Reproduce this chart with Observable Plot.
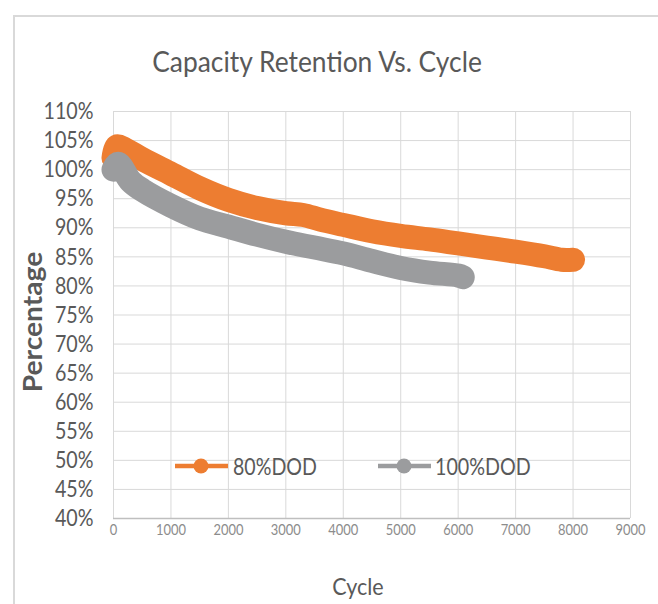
<!DOCTYPE html>
<html>
<head>
<meta charset="utf-8">
<script src="https://cdn.jsdelivr.net/npm/d3@7"></script>
<script src="https://cdn.jsdelivr.net/npm/@observablehq/plot@0.6"></script>
<style>
  html, body { margin: 0; padding: 0; background: #fff; }
  #wrap { position: relative; width: 658px; height: 604px; overflow: hidden; font-family: Lato, "Open Sans", sans-serif; color: #595959; }
  #wrap svg.plot { position: absolute; left: 0; top: 0; }
  .abs { position: absolute; white-space: nowrap; line-height: 1; }
  #border { position: absolute; left: 13px; top: 15px; width: 700px; height: 700px; border-top: 2px solid #d9d9d9; border-left: 2px solid #d9d9d9; }
</style>
</head>
<body>
<div id="wrap">
  <div id="border"></div>
</div>
<script>
const title = "Capacity Retention Vs. Cycle";
const xLabel = "Cycle";
const yLabel = "Percentage";
const xTicks = [0, 1000, 2000, 3000, 4000, 5000, 6000, 7000, 8000, 9000];
const yTicks = [40, 45, 50, 55, 60, 65, 70, 75, 80, 85, 90, 95, 100, 105, 110];

const seriesNames = ["80%DOD", "100%DOD"];
const seriesColors = ["#ED7D31", "#9B9C9E"];

const cycles80 = [0, 60, 200, 500, 1000, 1500, 2000, 2500, 3000, 3300, 3600, 4000, 4500, 5000, 5500, 6000, 6500, 7000, 7500, 7800, 8000];
const pct80    = [102, 104, 103.5, 101.8, 99.3, 96.8, 94.8, 93.4, 92.5, 92.2, 91.4, 90.5, 89.4, 88.6, 88, 87.3, 86.6, 85.9, 85.1, 84.5, 84.5];

const cycles100 = [0, 80, 300, 500, 1000, 1500, 2000, 2500, 3000, 3500, 4000, 4500, 5000, 5500, 6000, 6080];
const pct100    = [100, 101, 98, 96.5, 93.8, 91.6, 90.2, 88.8, 87.6, 86.6, 85.6, 84.3, 83.1, 82.3, 81.8, 81.5];

const data80 = cycles80.map((c, i) => ({cycle: c, pct: pct80[i]}));
const data100 = cycles100.map((c, i) => ({cycle: c, pct: pct100[i]}));

const lineOpts = (color) => ({
  x: "cycle", y: "pct", stroke: color, strokeWidth: 24,
  strokeLinecap: "round", strokeLinejoin: "round", curve: "catmull-rom"
});

const chart = Plot.plot({
  width: 658,
  height: 604,
  marginLeft: 113,
  marginRight: 28,
  marginTop: 111,
  marginBottom: 86,
  style: {fontFamily: "Lato, 'Open Sans', sans-serif", background: "transparent", overflow: "visible"},
  x: {domain: [0, 9000]},
  y: {domain: [40, 110]},
  marks: [
    Plot.gridX(xTicks, {stroke: "#d9d9d9", strokeOpacity: 1, strokeWidth: 1}),
    Plot.gridY(yTicks, {stroke: "#d9d9d9", strokeOpacity: 1, strokeWidth: 1}),
    Plot.ruleY([40], {stroke: "#bfbfbf", strokeWidth: 1.5}),
    Plot.axisX(xTicks, {tickSize: 0, tickPadding: 5, fontSize: 16, fill: "#8c8c8c", label: null, tickFormat: d => String(d)}),
    Plot.axisY(yTicks, {tickSize: 0, tickPadding: 20, fontSize: 24, fill: "#595959", label: null, tickFormat: d => d + "%"}),
    Plot.line(data80, lineOpts(seriesColors[0])),
    Plot.line(data100, lineOpts(seriesColors[1]))
  ]
});
const wrap = document.getElementById("wrap");
wrap.appendChild(chart);

// horizontally condense tick labels to match the narrow reference typeface
function condense(selector, refText, targetWidth) {
  const texts = Array.from(chart.querySelectorAll(selector));
  if (!texts.length) return;
  const ref = texts.find(t => t.textContent === refText) || texts[0];
  const w = ref.getComputedTextLength();
  if (!w) return;
  const s = targetWidth / w;
  texts.forEach(t => {
    const x = +(t.getAttribute("x") || 0);
    const tr = t.getAttribute("transform") || "";
    t.setAttribute("transform", `${tr} translate(${x},0) scale(${s},1) translate(${-x},0)`);
  });
}
condense('g[aria-label="y-axis tick label"] text', "110%", 50);
condense('g[aria-label="x-axis tick label"] text', "1000", 30);

function addText(txt, css, opts) {
  const d = document.createElement("div");
  d.className = "abs";
  d.textContent = txt;
  Object.assign(d.style, css);
  wrap.appendChild(d);
  const s = opts.target / d.offsetWidth;
  if (opts.mode === "center") {
    d.style.transform = `translate(-50%,-50%) ${opts.rotate ? "rotate(-90deg) " : ""}scaleX(${s})`;
  } else {
    d.style.transformOrigin = "left center";
    d.style.transform = `translateY(-50%) scaleX(${s})`;
  }
  return d;
}
addText(title, {left: "317px", top: "61px", fontSize: "28px", color: "#595959"}, {mode: "center", target: 330});
addText(xLabel, {left: "358px", top: "586px", fontSize: "24px", color: "#595959"}, {mode: "center", target: 51});
addText(yLabel, {left: "32px", top: "322px", fontSize: "26px", fontWeight: "bold", color: "#595959"}, {mode: "center", target: 141, rotate: true});

// legend (inside plot area, as in the reference)
const legendPos = [{iconLeft: 175, textLeft: 233, w: 84}, {iconLeft: 378, textLeft: 435, w: 96}];
seriesNames.forEach((name, i) => {
  const ns = "http://www.w3.org/2000/svg";
  const svg = document.createElementNS(ns, "svg");
  svg.setAttribute("width", 54); svg.setAttribute("height", 18);
  svg.style.position = "absolute";
  svg.style.left = legendPos[i].iconLeft + "px";
  svg.style.top = "457px";
  const ln = document.createElementNS(ns, "line");
  ln.setAttribute("x1", 0); ln.setAttribute("x2", 53); ln.setAttribute("y1", 9); ln.setAttribute("y2", 9);
  ln.setAttribute("stroke", seriesColors[i]); ln.setAttribute("stroke-width", 4.5);
  const c = document.createElementNS(ns, "circle");
  c.setAttribute("cx", 26); c.setAttribute("cy", 9); c.setAttribute("r", 7.5); c.setAttribute("fill", seriesColors[i]);
  svg.appendChild(ln); svg.appendChild(c);
  wrap.appendChild(svg);
  addText(name, {left: legendPos[i].textLeft + "px", top: "466px", fontSize: "24px", color: "#595959"}, {mode: "left", target: legendPos[i].w});
});
</script>
</body>
</html>
